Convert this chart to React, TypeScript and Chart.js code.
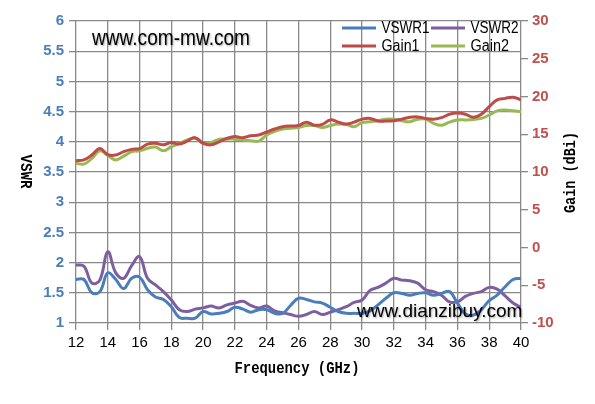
import { useRef, useEffect } from "react";
import { Chart, registerables, type Plugin } from "chart.js";

Chart.register(...registerables);

// ── data ───────────────────────────────────────────────────────────────
const FREQ = [
  12, 12.5, 13, 13.5, 14, 14.5, 15, 15.5, 16, 16.5, 17, 17.5, 18, 18.5, 19, 19.5,
  20, 20.5, 21, 21.5, 22, 22.5, 23, 23.5, 24, 24.5, 25, 25.5, 26, 26.5, 27, 27.5,
  28, 28.5, 29, 29.5, 30, 30.5, 31, 31.5, 32, 32.5, 33, 33.5, 34, 34.5, 35, 35.5,
  36, 36.5, 37, 37.5, 38, 38.5, 39, 39.5, 40,
];

const VSWR1 = [
  1.72, 1.72, 1.50, 1.52, 1.83, 1.72, 1.57, 1.74, 1.76, 1.55, 1.43, 1.39, 1.27, 1.09, 1.08, 1.08,
  1.19, 1.15, 1.16, 1.19, 1.26, 1.23, 1.18, 1.22, 1.22, 1.16, 1.16, 1.29, 1.41, 1.39, 1.35, 1.33,
  1.26, 1.19, 1.16, 1.16, 1.16, 1.20, 1.30, 1.41, 1.50, 1.49, 1.46, 1.49, 1.50, 1.46, 1.49, 1.52,
  1.33, 1.15, 1.13, 1.22, 1.37, 1.46, 1.60, 1.72, 1.74,
];

const VSWR2 = [
  1.96, 1.94, 1.66, 1.71, 2.18, 1.83, 1.74, 1.95, 2.10, 1.74, 1.63, 1.52, 1.38, 1.22, 1.19, 1.23,
  1.25, 1.28, 1.25, 1.30, 1.33, 1.36, 1.29, 1.25, 1.28, 1.20, 1.17, 1.14, 1.11, 1.14, 1.19, 1.14,
  1.18, 1.22, 1.27, 1.34, 1.38, 1.54, 1.59, 1.66, 1.74, 1.71, 1.70, 1.66, 1.55, 1.52, 1.46, 1.35,
  1.35, 1.44, 1.49, 1.52, 1.59, 1.56, 1.45, 1.33, 1.26,
];

const GAIN1 = [
  11.5, 11.6, 12.25, 13.1, 12.3, 12.25, 12.7, 13.0, 13.1, 13.7, 13.8, 13.6, 13.9, 13.7, 14.1, 14.55,
  13.8, 13.6, 14.0, 14.45, 14.7, 14.55, 14.8, 14.9, 15.3, 15.7, 16.0, 16.1, 16.15, 16.6, 16.2, 16.3,
  16.9, 16.6, 16.35, 16.6, 17.0, 17.1, 16.75, 16.75, 16.8, 17.0, 17.25, 17.3, 17.1, 17.0, 17.2, 17.65,
  17.8, 17.65, 17.25, 17.65, 18.65, 19.55, 19.75, 19.9, 19.55,
];

const GAIN2 = [
  11.15, 11.05, 11.8, 12.8, 12.2, 11.6, 12.1, 12.7, 12.8, 13.15, 13.3, 12.8, 13.35, 13.8, 14.25, 14.45,
  13.8, 13.9, 14.35, 14.35, 14.35, 14.25, 14.15, 14.1, 14.9, 15.4, 15.7, 15.8, 15.9, 16.15, 16.15, 15.9,
  16.15, 16.35, 16.3, 16.0, 16.55, 16.65, 16.8, 17.0, 17.0, 16.8, 16.65, 17.0, 17.0, 16.45, 16.2, 16.6,
  16.9, 16.9, 16.95, 17.1, 17.55, 18.1, 18.2, 18.1, 18.0,
];

const SERIES = [
  { label: "VSWR1", data: VSWR1, color: "#4a7ebb", axis: "y" },
  { label: "VSWR2", data: VSWR2, color: "#7d5fa0", axis: "y" },
  { label: "Gain1", data: GAIN1, color: "#be4b48", axis: "y2" },
  { label: "Gain2", data: GAIN2, color: "#98b954", axis: "y2" },
];

const GRID = "#898989";
const SANS = "'Liberation Sans', Arial, sans-serif";
const MONO = "'Liberation Mono', 'Courier New', monospace";

const plain = (v: number | string) => String(Number(v));

function text(
  ctx: CanvasRenderingContext2D, s: string, x: number, y: number, font: string,
  maxW: number, rot = 0, align: CanvasTextAlign = "center", base: CanvasTextBaseline = "middle",
) {
  ctx.save();
  ctx.translate(x, y);
  ctx.rotate(rot);
  ctx.font = font;
  ctx.fillStyle = "#000";
  ctx.textAlign = align;
  ctx.textBaseline = base;
  ctx.fillText(s, 0, 0, maxW);
  ctx.restore();
}

// titles, legend and watermarks drawn over the chart
const overlay: Plugin = {
  id: "overlay",
  afterDraw(chart) {
    const ctx = chart.ctx;
    // axis titles
    text(ctx, "VSWR", 25.5, 171.5, `bold 16px ${MONO}`, 34, Math.PI / 2);
    text(ctx, "Gain (dBi)", 570.5, 172.5, `bold 16px ${MONO}`, 81, -Math.PI / 2);
    text(ctx, "Frequency (GHz)", 297, 369, `bold 16px ${MONO}`, 125);

    // legend (2 x 2)
    const cells = [
      { x: 342, y: 28, w: 48 }, { x: 431, y: 28, w: 48 },
      { x: 342, y: 46, w: 38 }, { x: 431, y: 46, w: 38.5 },
    ];
    chart.data.datasets.forEach((ds, i) => {
      const c = cells[i];
      ctx.save();
      ctx.strokeStyle = ds.borderColor as string;
      ctx.lineWidth = 3;
      ctx.beginPath();
      ctx.moveTo(c.x, c.y);
      ctx.lineTo(c.x + 34, c.y);
      ctx.stroke();
      ctx.restore();
      text(ctx, ds.label as string, c.x + 39.5, c.y + 1, `16px ${SANS}`, c.w, 0, "left");
    });

    // watermarks
    ctx.save();
    ctx.shadowColor = "rgba(0,0,0,0.35)";
    ctx.shadowBlur = 2;
    ctx.shadowOffsetX = 1;
    ctx.shadowOffsetY = 1;
    text(ctx, "www.com-mw.com", 92, 44.5, `22px ${SANS}`, 158, 0, "left", "alphabetic");
    text(ctx, "www.dianzibuy.com", 357, 317, `19px ${SANS}`, 166, 0, "left", "alphabetic");
    ctx.restore();
  },
};

export default function App() {
  const ref = useRef<HTMLCanvasElement>(null);

  useEffect(() => {
    if (!ref.current) return;
    const chart = new Chart(ref.current, {
      type: "line",
      data: {
        datasets: SERIES.map((s) => ({
          label: s.label,
          data: FREQ.map((f, i) => ({ x: f, y: s.data[i] })),
          borderColor: s.color,
          backgroundColor: s.color,
          borderWidth: 3,
          pointRadius: 0,
          tension: 0.4,
          yAxisID: s.axis,
        })),
      },
      options: {
        responsive: true,
        maintainAspectRatio: false,
        animation: false,
        layout: { padding: { top: 21, left: 0, right: 0, bottom: 0 } },
        plugins: { legend: { display: false }, tooltip: { enabled: false } },
        scales: {
          x: {
            type: "linear",
            min: 12, max: 40,
            afterFit: (s) => { s.height = 81; },
            ticks: { stepSize: 2, padding: 4, color: "#000", font: { family: SANS, size: 15 }, callback: plain },
            grid: { color: GRID, lineWidth: 1.3, tickLength: 7 },
            border: { display: false },
          },
          y: {
            position: "left",
            min: 1, max: 6,
            afterFit: (s) => { s.width = 76; },
            ticks: { stepSize: 0.5, padding: 5, color: "#4a7ebb", font: { family: SANS, size: 15, weight: "bold" }, callback: plain },
            grid: { color: GRID, lineWidth: 1.3, tickLength: 7 },
            border: { display: false },
          },
          y2: {
            position: "right",
            min: -10, max: 30,
            afterFit: (s) => { s.width = 74; },
            ticks: { stepSize: 5, padding: 4, color: "#c0504d", font: { family: SANS, size: 15, weight: "bold" }, callback: plain },
            grid: { drawOnChartArea: false, color: GRID, lineWidth: 1.3, tickLength: 7 },
            border: { display: false },
          },
        },
      },
      plugins: [overlay],
    });
    return () => { chart.destroy(); };
  }, []);

  return (
    <div style={{ position: "absolute", left: 0, top: 0, width: 595, height: 404, background: "#fff" }}>
      <canvas ref={ref} />
    </div>
  );
}
